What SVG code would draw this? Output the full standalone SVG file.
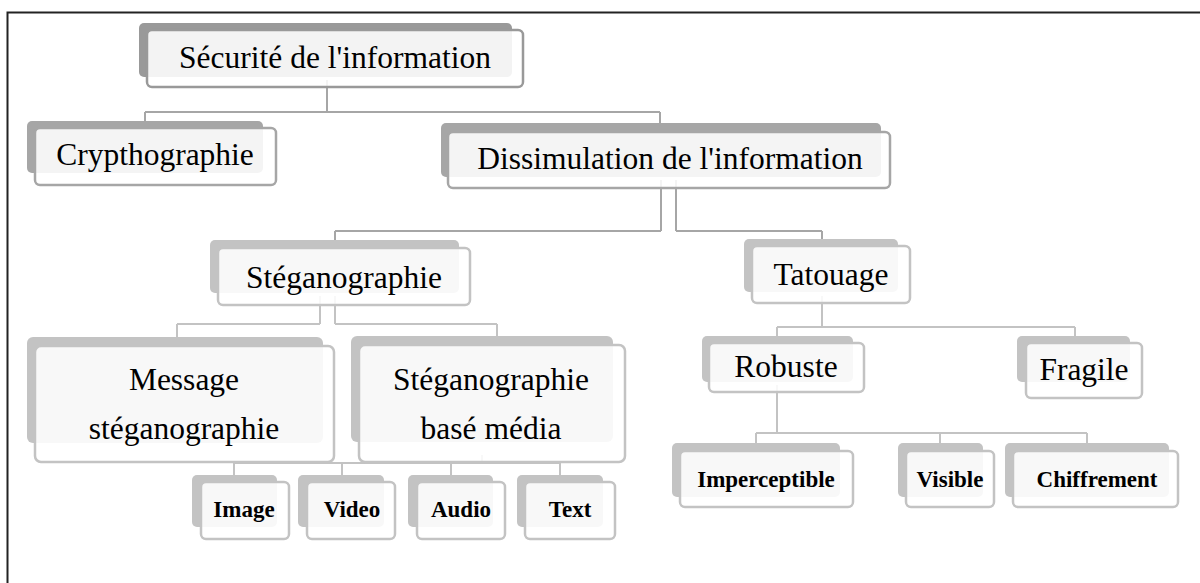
<svg xmlns="http://www.w3.org/2000/svg" width="1200" height="583" viewBox="0 0 1200 583">
<style>
.frame{fill:none;stroke:#222;stroke-width:2}
.sh0{fill:#999}
.sh1{fill:#a6a6a6}
.sh2{fill:#c3c3c3}
.fr0{fill:#fff;fill-opacity:0.88;stroke:#999;stroke-width:2.5}
.fr1{fill:#fff;fill-opacity:0.88;stroke:#a6a6a6;stroke-width:2.5}
.fr2{fill:#fff;fill-opacity:0.88;stroke:#c3c3c3;stroke-width:2.5}
.c1{fill:none;stroke:#a6a6a6;stroke-width:2}
.c2{fill:none;stroke:#c3c3c3;stroke-width:2}
.t{font-family:"Liberation Serif","Times New Roman",serif;font-size:31.5px;fill:#000;text-anchor:middle}
.tb{font-family:"Liberation Serif","Times New Roman",serif;font-size:23px;font-weight:bold;fill:#000;text-anchor:middle}
</style>
<rect width="1200" height="583" fill="#fff"/>
<path class="frame" d="M7.5,583 V12.5 H1200"/>
<g id="connectors">
<path class="c1" d="M327,80 V112 M145,112 H660 M145,112 V121 M660,112 V123"/>
<path class="c1" d="M661,180 V231 M676,180 V231 M335,231 H661 M676,231 H822 M335,231 V240 M822,231 V239"/>
<path class="c2" d="M320,296 V324 M335,296 V324 M177,324 H320 M335,324 H497 M177,324 V337 M497,324 V336"/>
<path class="c2" d="M482,455 V463 M234,463 H560 M234,463 V475 M342,463 V475 M451,463 V475 M560,463 V475"/>
<path class="c2" d="M822,296 V327 M777,327 H1075 M777,327 V336 M1075,327 V336"/>
<path class="c2" d="M777,385 V433 M756,433 H1087 M756,433 V443 M940,433 V443 M1087,433 V443"/>
</g>
<g id="securite">
<rect class="sh0" x="139" y="23" width="373" height="54" rx="5"/>
<rect class="fr0" x="147" y="30" width="376" height="57" rx="5"/>
<text class="t" x="335" y="68">Sécurité de l'information</text>
</g>
<g id="crypthographie">
<rect class="sh1" x="27" y="121" width="236" height="52" rx="5"/>
<rect class="fr1" x="35" y="128" width="241" height="57" rx="5"/>
<text class="t" x="155" y="165">Crypthographie</text>
</g>
<g id="dissimulation">
<rect class="sh1" x="441" y="123" width="440" height="54" rx="5"/>
<rect class="fr1" x="448" y="132" width="442" height="56" rx="5"/>
<text class="t" x="670" y="169">Dissimulation de l'information</text>
</g>
<g id="steganographie">
<rect class="sh2" x="210" y="240" width="249" height="53" rx="5"/>
<rect class="fr2" x="218" y="248" width="252" height="57" rx="5"/>
<text class="t" x="344" y="288">Stéganographie</text>
</g>
<g id="message">
<rect class="sh2" x="27" y="337" width="296" height="106" rx="6"/>
<rect class="fr2" x="35" y="346" width="299" height="116" rx="6"/>
<text class="t" x="184" y="390">Message</text>
<text class="t" x="184" y="439">stéganographie</text>
</g>
<g id="media">
<rect class="sh2" x="351" y="336" width="262" height="106" rx="6"/>
<rect class="fr2" x="359" y="345" width="266" height="117" rx="6"/>
<text class="t" x="491" y="390">Stéganographie</text>
<text class="t" x="491" y="439">basé média</text>
</g>
<g id="image">
<rect class="sh2" x="192" y="475" width="85" height="52" rx="5"/>
<rect class="fr2" x="201" y="482" width="88" height="57" rx="5"/>
<text class="tb" x="244" y="517">Image</text>
</g>
<g id="video">
<rect class="sh2" x="298" y="475" width="86" height="52" rx="5"/>
<rect class="fr2" x="307" y="482" width="88" height="57" rx="5"/>
<text class="tb" x="352" y="517">Video</text>
</g>
<g id="audio">
<rect class="sh2" x="408" y="475" width="85" height="52" rx="5"/>
<rect class="fr2" x="417" y="482" width="88" height="57" rx="5"/>
<text class="tb" x="461" y="517">Audio</text>
</g>
<g id="text">
<rect class="sh2" x="517" y="475" width="86" height="52" rx="5"/>
<rect class="fr2" x="525" y="482" width="90" height="57" rx="5"/>
<text class="tb" x="570" y="517">Text</text>
</g>
<g id="tatouage">
<rect class="sh2" x="744" y="239" width="154" height="53" rx="5"/>
<rect class="fr2" x="752" y="246" width="158" height="57" rx="5"/>
<text class="t" x="831" y="285">Tatouage</text>
</g>
<g id="robuste">
<rect class="sh2" x="702" y="336" width="151" height="46" rx="5"/>
<rect class="fr2" x="709" y="343" width="155" height="49" rx="5"/>
<text class="t" x="786" y="377">Robuste</text>
</g>
<g id="fragile">
<rect class="sh2" x="1017" y="336" width="113" height="46" rx="5"/>
<rect class="fr2" x="1026" y="343" width="116" height="55" rx="5"/>
<text class="t" x="1084" y="380">Fragile</text>
</g>
<g id="imperceptible">
<rect class="sh2" x="672" y="443" width="168" height="54" rx="5"/>
<rect class="fr2" x="680" y="451" width="173" height="56" rx="5"/>
<text class="tb" x="766" y="487">Imperceptible</text>
</g>
<g id="visible">
<rect class="sh2" x="898" y="443" width="85" height="54" rx="5"/>
<rect class="fr2" x="906" y="451" width="88" height="56" rx="5"/>
<text class="tb" x="950" y="487">Visible</text>
</g>
<g id="chiffrement">
<rect class="sh2" x="1005" y="443" width="164" height="54" rx="5"/>
<rect class="fr2" x="1013" y="451" width="165" height="56" rx="5"/>
<text class="tb" x="1097" y="487">Chiffrement</text>
</g>
</svg>
